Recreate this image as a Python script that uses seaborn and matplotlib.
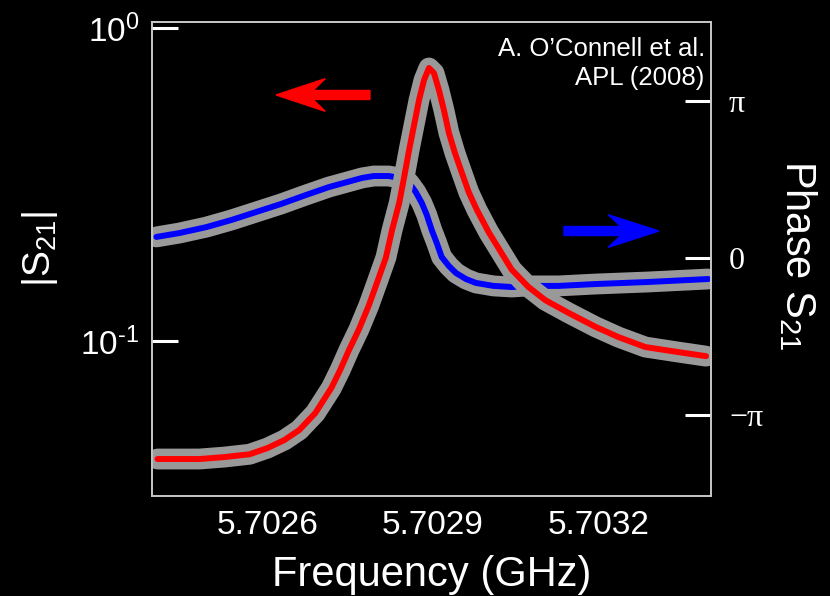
import numpy as np
import matplotlib
matplotlib.use("Agg")
import matplotlib.pyplot as plt
from matplotlib.patches import FancyArrow
import seaborn as sns

# |S21| fit curve, frequency in GHz
mag_freq = [5.702401, 5.702441, 5.702477, 5.702522, 5.702568, 5.702600, 5.702631,
            5.702658, 5.702687, 5.702716, 5.702732, 5.702748, 5.702766, 5.702784,
            5.702799, 5.702815, 5.702826, 5.702839, 5.702848, 5.702857, 5.702866,
            5.702875, 5.702884, 5.702893, 5.702902, 5.702911, 5.702920, 5.702929,
            5.702940, 5.702952, 5.702965, 5.702980, 5.703001, 5.703043, 5.703073,
            5.703104, 5.703146, 5.703195, 5.703236, 5.703285, 5.703345, 5.703395]
mag_vals = [0.0420, 0.0420, 0.0420, 0.0426, 0.0435, 0.0455, 0.0483,
            0.0520, 0.0589, 0.0708, 0.0808, 0.0936, 0.109, 0.130,
            0.154, 0.185, 0.226, 0.276, 0.334, 0.408, 0.490,
            0.589, 0.682, 0.745, 0.718, 0.634, 0.547, 0.463,
            0.399, 0.347, 0.299, 0.262, 0.223, 0.169, 0.149,
            0.135, 0.123, 0.111, 0.103, 0.0957, 0.0922, 0.0895]

# phase fit curve, in units of pi
phase_freq = [5.702399, 5.702441, 5.702490, 5.702535, 5.702580, 5.702625, 5.702670,
              5.702712, 5.702739, 5.702772, 5.702793, 5.702820, 5.702839, 5.702857,
              5.702869, 5.702880, 5.702889, 5.702898, 5.702907, 5.702916, 5.702929,
              5.702942, 5.702960, 5.702978, 5.703010, 5.703043, 5.703073, 5.703128,
              5.703195, 5.703290, 5.703399]
phase_vals = [0.134, 0.159, 0.197, 0.242, 0.293, 0.344, 0.401,
              0.452, 0.478, 0.510, 0.522, 0.522, 0.510, 0.478,
              0.420, 0.350, 0.274, 0.178, 0.096, 0.006, -0.051,
              -0.096, -0.134, -0.159, -0.178, -0.185, -0.178, -0.178,
              -0.166, -0.153, -0.134]

x_ticks = [5.7026, 5.7029, 5.7032]
x_ticklabels = ["5.7026", "5.7029", "5.7032"]
mag_ticks = [0.1, 1.0]
mag_ticklabels = [r"$\mathdefault{10^{\text{-}1}}$", r"$\mathdefault{10^{0}}$"]
phase_ticks = [-1, 0, 1]
phase_ticklabels = ["\u2212\u03c0", "0", "\u03c0"]

sns.set_style("dark", {"axes.facecolor": "black", "figure.facecolor": "black",
                       "axes.edgecolor": "#c8c8c8", "text.color": "white",
                       "xtick.color": "white", "ytick.color": "white",
                       "axes.labelcolor": "white", "axes.grid": False})
plt.rcParams["font.family"] = ["Liberation Sans", "DejaVu Sans"]
plt.rcParams["mathtext.fontset"] = "custom"
plt.rcParams["mathtext.rm"] = "Liberation Sans"
plt.rcParams["mathtext.it"] = "Liberation Sans:italic"

fig = plt.figure(figsize=(8.3, 5.96), dpi=100)
fig.patch.set_facecolor("black")
ax = fig.add_axes([0.1831, 0.1678, 0.6735, 0.7953])
ax2 = ax.twinx()

gray = "#999999"
band_lw = 15
fit_lw = 4.3

# phase: gray data band + blue fit
sns.lineplot(x=phase_freq, y=phase_vals, ax=ax2, color=gray, lw=band_lw,
             solid_capstyle="round", solid_joinstyle="round")
sns.lineplot(x=phase_freq, y=phase_vals, ax=ax2, color="#0000ff", lw=fit_lw,
             solid_joinstyle="round")

# magnitude: gray data band + red fit
sns.lineplot(x=mag_freq, y=mag_vals, ax=ax, color=gray, lw=band_lw,
             solid_capstyle="round", solid_joinstyle="round")
sns.lineplot(x=mag_freq, y=mag_vals, ax=ax, color="#ff0000", lw=fit_lw,
             solid_joinstyle="round")

# magnitude axis on top of phase axis
ax.set_zorder(ax2.get_zorder() + 1)
ax.patch.set_visible(False)

ax.set_xlim(5.702391, 5.703404)
ax.set_yscale("log")
ax.set_ylim(0.032, 1.045)
ax2.set_ylim(-1.516, 1.503)

ax.set_xticks(x_ticks)
ax.set_xticklabels(x_ticklabels, fontsize=24)
ax.set_yticks(mag_ticks)
ax.set_yticklabels(mag_ticklabels, fontsize=24)
ax.yaxis.set_minor_locator(matplotlib.ticker.NullLocator())
ax2.set_yticks(phase_ticks)
ax2.set_yticklabels(phase_ticklabels, fontsize=23, family="Liberation Serif")

ax.tick_params(axis="x", direction="in", length=21.5, width=2.2, pad=10, color="white")
ax.tick_params(axis="y", direction="in", length=18.7, width=2.2, pad=9, color="white")
ax2.tick_params(axis="y", direction="in", length=18.7, width=2.2, pad=13, color="white")

for a in (ax, ax2):
    for s in a.spines.values():
        s.set_color("#c8c8c8")
        s.set_linewidth(1.2)

ax.set_xlabel("Frequency (GHz)", fontsize=30)
ax.xaxis.set_label_coords(0.4995, -0.166)
ax.xaxis.label.set_va("center")
ax.set_ylabel("|S$_{21}$|", fontsize=28)
ax.yaxis.set_label_coords(-0.200, 0.521)
ax.yaxis.label.set_va("center")
ax2.set_ylabel("Phase S$_{21}$", fontsize=30, rotation=270)
ax2.yaxis.set_label_coords(1.155, 0.508)
ax2.yaxis.label.set_va("center")
ax2.yaxis.label.set_ha("center")

ax.text(0.989, 0.968, "A. O\u2019Connell et al.\nAPL (2008)", transform=ax.transAxes,
        ha="right", va="top", fontsize=18.5, color="white", linespacing=1.25)

# direction arrows
ax.add_patch(FancyArrow(0.390, 0.846, -0.168, 0, width=0.019, head_width=0.069,
                        head_length=0.088, overhang=0.25, length_includes_head=True,
                        color="#ff0000", transform=ax.transAxes, zorder=5))
ax.add_patch(FancyArrow(0.737, 0.559, 0.170, 0, width=0.019, head_width=0.069,
                        head_length=0.091, overhang=0.25, length_includes_head=True,
                        color="#0000ff", transform=ax.transAxes, zorder=5))

fig.savefig("out.png", dpi=100, facecolor="black")
